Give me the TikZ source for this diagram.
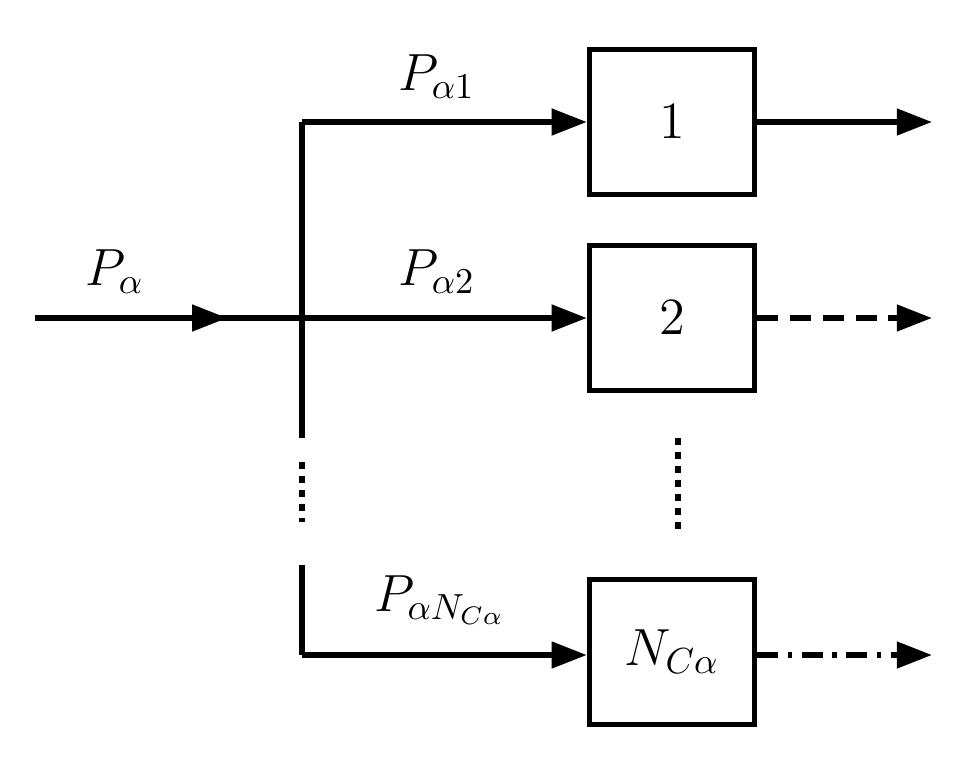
\documentclass[tikz,border=0pt]{standalone}
\usetikzlibrary{arrows.meta,decorations.markings}
\newcommand{\mybig}[1]{\scalebox{3.1}{\Large$#1$}}
\begin{document}
\begin{tikzpicture}[x=0.03cm,y=-0.03cm,line width=4.6pt,
  box/.style={draw,minimum width=4.95cm,minimum height=4.35cm,inner sep=0pt},
  lab/.style={},
  tip/.style={-{Triangle[length=30pt,width=22pt]}},
  midtip/.style={postaction={decorate},decoration={markings,mark=at position #1 with {\arrow{Triangle[length=30pt,width=22pt]}}}}]
\useasboundingbox (0,0) rectangle (953,757);
\node[box] (b1) at (672,122) {\mybig{1}};
\node[box] (b2) at (672,318) {\mybig{2}};
\node[box] (b3) at (672,652) {\mybig{N_{C\alpha}}};
\coordinate (in) at (35,318);
\coordinate (j) at (302,318);
\coordinate (t) at (302,122);
\coordinate (vb) at (302,438);
\coordinate (vc) at (302,565);
\coordinate (bt) at (302,655);
\coordinate (o1) at (932,122);
\coordinate (o2) at (932,318);
\coordinate (o3) at (932,655);
\draw[midtip=0.72] (in) -- (j);
\draw (vb) -- (t);
\draw[tip] (t) -- (b1.west);
\draw[tip] (j) -- (b2.west);
\draw (vc) -- (bt);
\draw[tip] (bt) -- (b3.west|-bt);
\draw[dash pattern=on 6pt off 6pt] (302,462) -- (302,522);
\draw[dash pattern=on 6pt off 6pt] (678,438) -- (678,530);
\draw[tip] (b1.east) -- (o1);
\draw[tip,dash pattern=on 18pt off 10pt] (b2.east) -- (o2);
\draw[tip,dash pattern=on 18pt off 8pt on 4pt off 8pt] (b3.east|-o3) -- (o3);
\node[lab] (l0) at (115,272) {\mybig{P_\alpha}};
\node[lab] (l1) at (437,77) {\mybig{P_{\alpha1}}};
\node[lab] (l2) at (437,272) {\mybig{P_{\alpha2}}};
\node[lab] (l3) at (440,600) {\mybig{P_{\alpha N_{C\alpha}}}};
\end{tikzpicture}
\end{document}
